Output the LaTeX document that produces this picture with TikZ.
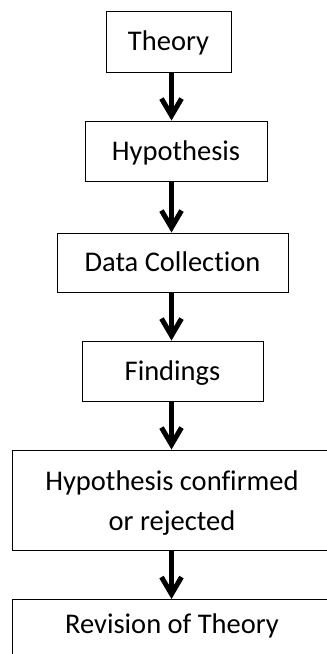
\documentclass[tikz,border=0pt]{standalone}
\usepackage{fontspec}
\setmainfont[Ligatures=NoCommon]{Carlito}
\usetikzlibrary{arrows.meta}
\tikzset{
  box/.style={draw=black, line width=1pt, fill=white, inner sep=0pt, align=center,
    font=\fontsize{28.5pt}{40pt}\selectfont},
  onebox/.style={box, text height=21.4pt, text depth=3.2pt},
  flow/.style={line width=5pt, -{Straight Barb[length=17pt,width=20pt]}},
  lbl/.style={font=\fontsize{28.5pt}{40pt}\selectfont, inner sep=0pt}
}
\begin{document}
\begin{tikzpicture}[x=1pt,y=1pt]
\useasboundingbox (0,0) rectangle (327,-654);
\clip (0,0) rectangle (327,-654);
\fill[white] (0,0) rectangle (327,-654);
\coordinate (ax) at (171.5,0);
\node[onebox, minimum width=125, minimum height=61] (theory) at (168.5,-41.5) {Theory};
\node[onebox, minimum width=182, minimum height=60] (hyp) at (176,-151) {Hypothesis};
\node[onebox, minimum width=231, minimum height=59] (data) at (172.5,-262.5) {Data Collection};
\node[onebox, minimum width=181, minimum height=60] (find) at (172.5,-371) {Findings};
\node[box, minimum width=320, minimum height=100] (conf) at (172,-500) {\rule{0pt}{26pt}Hypothesis confirmed\\or rejected};
\node[box, minimum width=320, minimum height=100, anchor=north] (rev) at (172,-599) {};
\node[lbl, anchor=base] (revtext) at (172,-633) {Revision of Theory};
\draw[flow] (theory.south -| ax) -- (hyp.north -| ax);
\draw[flow] (hyp.south -| ax) -- (data.north -| ax);
\draw[flow] (data.south -| ax) -- (find.north -| ax);
\draw[flow] (find.south -| ax) -- (conf.north -| ax);
\draw[flow] (conf.south -| ax) -- (rev.north -| ax);
\end{tikzpicture}
\end{document}
